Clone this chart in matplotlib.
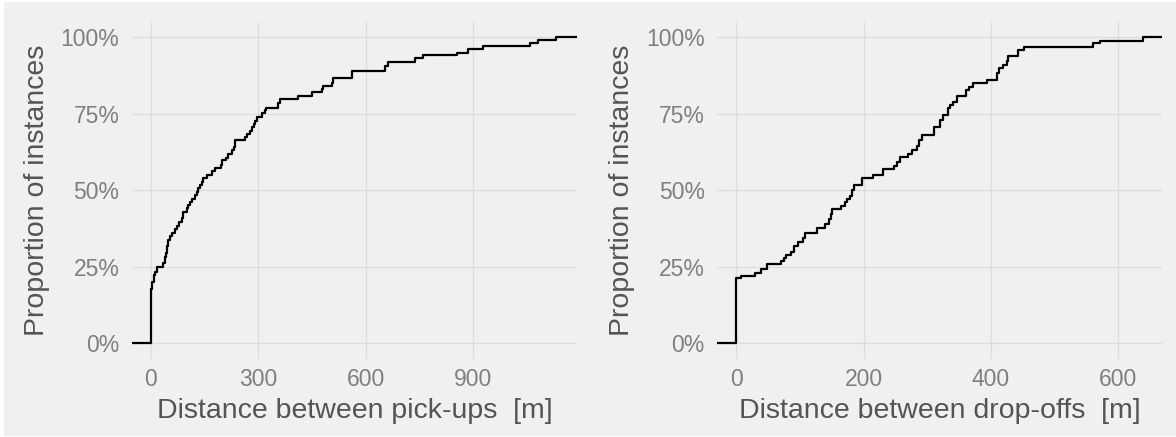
import matplotlib
matplotlib.use("Agg")
import matplotlib.pyplot as plt
from matplotlib.patches import Rectangle
from matplotlib.ticker import FuncFormatter

# ECDF breakpoints (distance in m, cumulative proportion)
pickup_x = [0, 3, 8, 12, 16, 35, 38, 41, 45, 48, 52, 58, 68, 72, 77, 86, 90, 100, 104,
            110, 115, 124, 128, 132, 138, 142, 146, 156, 172, 178, 196, 199, 210, 215,
            226, 232, 235, 262, 268, 276, 282, 288, 292, 296, 310, 318, 321, 356, 362,
            412, 449, 478, 482, 505, 510, 561, 654, 663, 738, 761, 855, 887, 929, 1060,
            1083, 1131]
pickup_p = [0.178, 0.200, 0.222, 0.233, 0.250, 0.261, 0.283, 0.294, 0.317, 0.338, 0.350,
            0.361, 0.372, 0.383, 0.397, 0.408, 0.430, 0.441, 0.452, 0.462, 0.473, 0.484,
            0.495, 0.506, 0.517, 0.528, 0.540, 0.551, 0.562, 0.573, 0.584, 0.599, 0.607,
            0.618, 0.632, 0.643, 0.664, 0.675, 0.684, 0.695, 0.706, 0.717, 0.728, 0.740,
            0.752, 0.762, 0.770, 0.784, 0.797, 0.809, 0.820, 0.830, 0.841, 0.852, 0.867,
            0.889, 0.906, 0.920, 0.931, 0.942, 0.950, 0.961, 0.972, 0.981, 0.991, 1.000]

dropoff_x = [0, 8, 29, 38, 48, 70, 74, 78, 86, 90, 97, 104, 108, 127, 139, 145, 148, 150,
             165, 170, 173, 178, 181, 184, 197, 214, 231, 248, 253, 257, 270, 276, 283,
             287, 292, 310, 320, 325, 332, 336, 341, 346, 361, 365, 372, 393, 409, 412,
             419, 425, 427, 443, 452, 560, 571, 639]
dropoff_p = [0.212, 0.220, 0.231, 0.242, 0.259, 0.270, 0.280, 0.289, 0.300, 0.319, 0.332,
             0.345, 0.361, 0.376, 0.390, 0.405, 0.422, 0.438, 0.450, 0.461, 0.470, 0.483,
             0.500, 0.517, 0.539, 0.550, 0.569, 0.580, 0.592, 0.610, 0.619, 0.632, 0.644,
             0.664, 0.680, 0.708, 0.730, 0.746, 0.768, 0.779, 0.790, 0.808, 0.828, 0.839,
             0.852, 0.860, 0.882, 0.899, 0.909, 0.922, 0.939, 0.958, 0.969, 0.980, 0.989,
             1.000]

pickup_ticks = [0, 300, 600, 900]
dropoff_ticks = [0, 200, 400, 600]
y_ticks = [0, 0.25, 0.5, 0.75, 1.0]

BG = "#F0F0F0"
GRID = "#DCDCDC"
TICKC = "#7F7F7F"
LABC = "#545454"
plt.rcParams["font.family"] = ["Liberation Sans", "DejaVu Sans"]

W, H = 1176, 437
fig = plt.figure(figsize=(W / 100, H / 100), dpi=100, facecolor="white")
fig.patches.append(Rectangle((4 / W, 1 / H), 1 - 4 / W, 1 - 3 / H, transform=fig.transFigure,
                             facecolor=BG, edgecolor="none", zorder=-10))

def panel(left_px, xs, ps, xlim, xticks, xlabel):
    ax = fig.add_axes([left_px / W, 1 - 358.6 / H, 445 / W, 336.6 / H])
    ax.set_facecolor(BG)
    sx = [xlim[0]] + list(xs) + [xlim[1]]
    sy = [0.0] + list(ps) + [ps[-1]]
    ax.step(sx, sy, where="post", color="black", lw=1.6, zorder=3)
    ax.set_xlim(*xlim)
    ax.set_ylim(-0.05, 1.05)
    ax.set_xticks(xticks)
    ax.set_yticks(y_ticks)
    ax.yaxis.set_major_formatter(FuncFormatter(lambda v, _: f"{v*100:.0f}%"))
    ax.grid(True, color=GRID, lw=0.9)
    ax.set_axisbelow(True)
    for s in ax.spines.values():
        s.set_visible(False)
    ax.tick_params(length=0, labelsize=16.5, labelcolor=TICKC, pad=7)
    ax.tick_params(axis="y", pad=9)
    ax.set_xlabel(xlabel, fontsize=20.5, color=LABC, labelpad=5)
    ax.set_ylabel("Proportion of instances", fontsize=20.5, color=LABC, labelpad=8)
    return ax

panel(132, pickup_x, pickup_p, (-53, 1191), pickup_ticks, "Distance between pick-ups  [m]")
panel(717.3, dropoff_x, dropoff_p, (-30, 669), dropoff_ticks, "Distance between drop-offs  [m]")

fig.savefig("out.png", dpi=100, facecolor="white")
